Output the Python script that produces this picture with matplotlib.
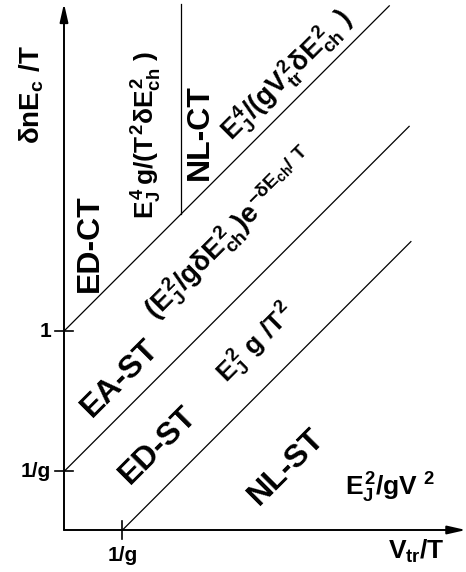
import numpy as np
import matplotlib
matplotlib.use("Agg")
import matplotlib.pyplot as plt

plt.rcParams['font.family'] = ['Liberation Sans', 'DejaVu Sans']
plt.rcParams['font.weight'] = 'bold'
plt.rcParams['mathtext.fontset'] = 'custom'
plt.rcParams['mathtext.rm'] = 'Liberation Sans:bold'
plt.rcParams['mathtext.it'] = 'Liberation Sans:bold'
plt.rcParams['mathtext.bf'] = 'Liberation Sans:bold'
plt.rcParams['mathtext.sf'] = 'Liberation Sans'

# schematic log-log units (1/g = 1 on both axes)
x_ticks = [1.0]
x_tick_labels = ['1/g']
y_ticks = [1.0, 3.4]
y_tick_labels = ['1/g', '1']

# diagonal crossovers: y = x + b, drawn from start x to end x
line_b = [3.4, 1.0, -1.0]
line_x0 = [0.0, 0.0, 1.0]
line_x1 = [5.56, 5.9, 5.93]
# vertical crossover ED-CT / NL-CT
vert_x = 2.0
vert_top = 9.0

x_end = 6.87
y_end = 9.0

# region labels: text, x, y, rotation, size
labels = [
    ('ED-CT', 0.44, 4.9, 90, 23),
    (r'$E_J^4\,g/(T^2\mathsf{\delta} E_{ch}^2\ )$', 1.42, 6.75, 90, 19),
    ('NL-CT', 2.32, 6.8, 90, 23),
    (r'$E_J^4/(gV_{tr}^2\mathsf{\delta} E_{ch}^2\ )$', 3.82, 7.76, 45, 19.5),
    ('EA-ST', 0.96, 2.6, 45, 23),
    (r'$(E_J^2/g\mathsf{\delta} E_{ch}^2)e^{-\mathsf{\delta} E_{ch}/\ T}$', 2.84, 5.06, 45, 20),
    ('ED-ST', 1.61, 1.45, 45, 23),
    (r'$E_J^2\ g\ /T^2$', 3.3, 3.18, 45, 19),
    ('NL-ST', 3.81, 1.08, 45, 23),
    (r'$E_J^2/gV^{\ 2}$', 5.57, 0.72, 0, 19),
    (r'$\mathsf{\delta nE_c\ /T}$', -0.55, 7.45, 90, 20),
]

fig = plt.figure(figsize=(4.66, 5.72), dpi=100)
ax = fig.add_axes([0, 0, 1, 1])
ax.set_xlim(-1.094, 6.872)
ax.set_ylim(-0.718, 9.06)
ax.axis('off')

# axes with arrows
ax.annotate('', xy=(0, y_end), xytext=(0, 0),
            arrowprops=dict(arrowstyle='-|>,head_length=1.1,head_width=0.25',
                            lw=1.4, color='black', shrinkA=0, shrinkB=0))
ax.annotate('', xy=(x_end, 0), xytext=(0, 0),
            arrowprops=dict(arrowstyle='-|>,head_length=1.1,head_width=0.25',
                            lw=1.4, color='black', shrinkA=0, shrinkB=0))

for b, x0, x1 in zip(line_b, line_x0, line_x1):
    xs = np.array([x0, x1])
    ax.plot(xs, xs + b, color='black', lw=0.9)
ax.plot([vert_x, vert_x], [vert_x + line_b[0], vert_top], color='black', lw=0.9)

# ticks
for t, lab in zip(y_ticks, y_tick_labels):
    ax.plot([-0.16, 0.16], [t, t], color='black', lw=1.2)
    ax.text(-0.22, t, lab, ha='right', va='center', fontsize=15, fontweight='bold')
for t, lab in zip(x_ticks, x_tick_labels):
    ax.plot([t, t], [-0.16, 0.16], color='black', lw=1.2)
    ax.text(t, -0.28, lab, ha='center', va='top', fontsize=15, fontweight='bold')

ax.text(6.03, -0.36, r'$V_{tr}/T$', ha='center', va='center', fontsize=19)

for txt, x, y, rot, fs in labels:
    ax.text(x, y, txt, rotation=rot, rotation_mode='anchor', ha='center',
            va='center', fontsize=fs, fontweight='bold')

fig.savefig('out.png', dpi=100)
